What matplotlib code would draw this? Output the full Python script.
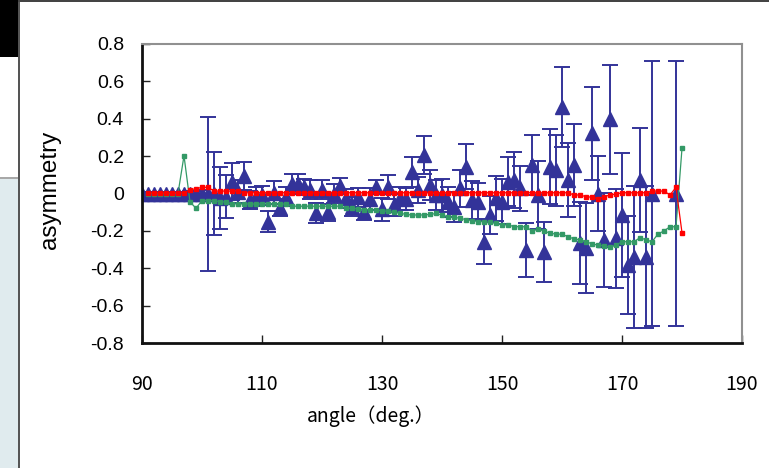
''' Asymmetry vs angle '''

import numpy as np
import matplotlib.pyplot as plt
from matplotlib.patches import Rectangle

#blue triangles with error bars
blue_angle = [90, 91, 92, 93, 94, 95, 96, 97, 98, 99,
              100, 101, 102, 103, 104, 105, 106, 107, 108, 109,
              110, 111, 112, 113, 114, 115, 116, 117, 118, 119,
              120, 121, 122, 123, 124, 125, 126, 127, 128, 129,
              130, 131, 132, 133, 134, 135, 136, 137, 138, 139,
              140, 141, 142, 143, 144, 145, 146, 147, 148, 149,
              150, 151, 152, 153, 154, 155, 156, 157, 158, 159,
              160, 161, 162, 163, 164, 165, 166, 167, 168, 169,
              170, 171, 172, 173, 174, 175, 179]
blue_asym = [0.0, 0.0, 0.0, 0.0, 0.0, 0.0, 0.0, 0.0, 0.0, 0.0,
             0.0, -0.003, 0.0, -0.025, -0.017, 0.063, 0.01, 0.094, -0.035, -0.017,
             -0.01, -0.15, 0.005, -0.075, -0.017, 0.05, 0.05, 0.035, 0.02, -0.105,
             0.02, -0.1, 0.0, 0.04, -0.026, -0.07, -0.02, -0.097, -0.03, 0.035,
             -0.085, 0.035, -0.06, -0.026, -0.03, 0.117, 0.02, 0.206, 0.046, -0.008,
             -0.01, -0.044, -0.07, 0.028, 0.143, -0.035, -0.044, -0.258, -0.115, -0.026,
             -0.044, 0.063, 0.072, 0.028, -0.302, 0.153, -0.008, -0.311, 0.143, 0.125,
             0.464, 0.072, 0.152, -0.266, -0.293, 0.322, -0.001, -0.248, 0.396, -0.24,
             -0.115, -0.383, -0.338, 0.072, -0.338, 0.0, 0.0]
blue_err = [0.01, 0.01, 0.01, 0.01, 0.01, 0.01, 0.01, 0.01, 0.015, 0.015,
            0.02, 0.41, 0.22, 0.165, 0.116, 0.10, 0.06, 0.075, 0.05, 0.05,
            0.05, 0.055, 0.06, 0.045, 0.05, 0.055, 0.055, 0.045, 0.05, 0.055,
            0.05, 0.045, 0.05, 0.045, 0.05, 0.05, 0.05, 0.045, 0.06, 0.035,
            0.06, 0.065, 0.06, 0.06, 0.06, 0.08, 0.07, 0.10, 0.08, 0.08,
            0.09, 0.08, 0.08, 0.10, 0.12, 0.10, 0.10, 0.12, 0.10, 0.12,
            0.12, 0.13, 0.15, 0.12, 0.145, 0.16, 0.18, 0.16, 0.20, 0.19,
            0.215, 0.20, 0.22, 0.22, 0.24, 0.25, 0.20, 0.25, 0.29, 0.265,
            0.33, 0.26, 0.38, 0.28, 0.38, 0.71, 0.71]

#red and green curves
line_angle = [91, 92, 93, 94, 95, 96, 97, 98, 99, 100,
              101, 102, 103, 104, 105, 106, 107, 108, 109, 110,
              111, 112, 113, 114, 115, 116, 117, 118, 119, 120,
              121, 122, 123, 124, 125, 126, 127, 128, 129, 130,
              131, 132, 133, 134, 135, 136, 137, 138, 139, 140,
              141, 142, 143, 144, 145, 146, 147, 148, 149, 150,
              151, 152, 153, 154, 155, 156, 157, 158, 159, 160,
              161, 162, 163, 164, 165, 166, 167, 168, 169, 170,
              171, 172, 173, 174, 175, 176, 177, 178, 179, 180]
red_asym = [0.003, 0.003, 0.003, 0.003, 0.003, 0.003, 0.003, 0.02, 0.025, 0.033,
            0.033, 0.013, 0.013, 0.013, 0.013, 0.013, 0.004, 0.004, 0.004, 0.004,
            0.004, 0.004, 0.004, 0.004, 0.004, 0.004, 0.004, 0.004, 0.004, 0.004,
            0.004, 0.004, 0.004, 0.004, 0.004, 0.004, 0.004, 0.004, 0.004, 0.004,
            0.004, 0.004, 0.004, 0.004, 0.004, 0.004, 0.004, 0.004, 0.004, 0.004,
            0.004, 0.004, 0.004, 0.004, 0.004, 0.004, 0.004, 0.004, 0.004, 0.004,
            0.004, 0.004, 0.004, 0.004, 0.004, 0.004, 0.004, 0.004, 0.004, 0.004,
            0.004, -0.008, -0.008, -0.017, -0.02, -0.028, -0.017, -0.008, -0.003, 0.004,
            0.004, 0.004, 0.004, 0.004, 0.013, 0.013, 0.013, -0.008, 0.033, -0.21]
green_asym = [0.0, 0.0, 0.0, 0.0, 0.0, 0.0, 0.202, -0.045, -0.079, -0.038,
              -0.038, -0.038, -0.044, -0.046, -0.055, -0.056, -0.056, -0.056, -0.056, -0.056,
              -0.056, -0.056, -0.056, -0.056, -0.068, -0.068, -0.068, -0.068, -0.068, -0.068,
              -0.068, -0.068, -0.068, -0.078, -0.08, -0.082, -0.086, -0.088, -0.09, -0.092,
              -0.096, -0.1, -0.105, -0.112, -0.115, -0.115, -0.115, -0.112, -0.107, -0.115,
              -0.125, -0.128, -0.132, -0.14, -0.145, -0.15, -0.151, -0.155, -0.159, -0.168,
              -0.168, -0.177, -0.178, -0.178, -0.2, -0.192, -0.2, -0.213, -0.217, -0.218,
              -0.231, -0.243, -0.248, -0.257, -0.27, -0.276, -0.28, -0.288, -0.276, -0.258,
              -0.258, -0.258, -0.236, -0.248, -0.258, -0.217, -0.2, -0.178, -0.178, 0.242]

xticks = [90, 110, 130, 150, 170, 190]
yticks = [-0.8, -0.6, -0.4, -0.2, 0, 0.2, 0.4, 0.6, 0.8]
ytick_labels = ['-0.8', '-0.6', '-0.4', '-0.2', '0', '0.2', '0.4', '0.6', '0.8']

W, H = 769, 468
fig = plt.figure(figsize=(W / 100, H / 100), dpi=100)

#screenshot frame around the chart
def px_rect(x0, y0, x1, y1, color):
    fig.add_artist(Rectangle((x0 / W, 1 - y1 / H), (x1 - x0) / W, (y1 - y0) / H,
                             transform=fig.transFigure, color=color, lw=0, zorder=0))

px_rect(0, 0, 18, 57, 'black')
px_rect(0, 179, 18, 468, '#e0ebee')
px_rect(0, 177, 18, 179, '#a8a8a8')
px_rect(18, 0, 20, 468, '#555555')
px_rect(18, 0, 769, 2, '#444444')

ax = fig.add_axes([142 / W, 1 - 343 / H, 600 / W, 299 / H])

blue = '#333399'
ax.errorbar(blue_angle, blue_asym, yerr=blue_err, fmt='^', color=blue, ms=9.5,
            elinewidth=1.4, capsize=5.5, capthick=1.4, zorder=2)
ax.plot(line_angle, green_asym, '-s', color='#339966', lw=0.9, ms=2.6, zorder=3)
ax.plot(line_angle, red_asym, '-s', color='#ff0000', lw=0.9, ms=2.9, zorder=4)

ax.set_xlim(90, 190)
ax.set_ylim(-0.8, 0.8)
ax.set_xticks(xticks)
ax.set_yticks(yticks)
ax.set_yticklabels(ytick_labels, family='Liberation Sans', fontsize=14)
ax.set_xticklabels([str(v) for v in xticks], family='Noto Sans CJK JP', fontsize=14)
ax.tick_params(direction='in', length=6, width=1, color='#222222')
ax.tick_params(axis='y', pad=13)
ax.tick_params(axis='x', pad=22)

#spines like the excel frame
for s in ['left', 'bottom']:
    ax.spines[s].set_linewidth(2)
    ax.spines[s].set_color('#111111')
for s in ['top', 'right']:
    ax.spines[s].set_linewidth(1.5)
    ax.spines[s].set_color('#909090')

#Naming
ax.set_ylabel('asymmetry', family='Liberation Sans', fontsize=17.5)
ax.yaxis.set_label_coords(-0.135, 0.512)
ax.set_xlabel('angle（deg.）', family='Noto Sans CJK JP', fontsize=14)
ax.xaxis.set_label_coords(0.381, -0.21)

fig.savefig('out.png', dpi=100)
